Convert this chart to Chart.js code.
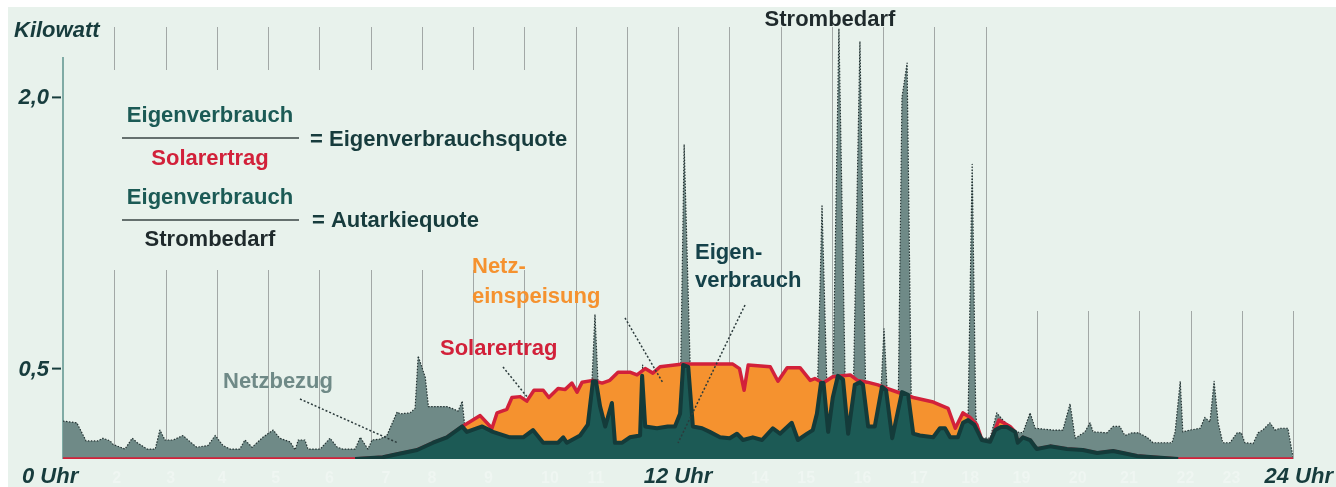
<!DOCTYPE html>
<html lang="de">
<head>
<meta charset="utf-8">
<title>Eigenverbrauch und Autarkie</title>
<script src="https://cdn.jsdelivr.net/npm/chart.js@4.4.1/dist/chart.umd.min.js"></script>
<style>
  html, body { margin: 0; padding: 0; background: #ffffff; }
  canvas { display: block; }
</style>
</head>
<body>
<canvas id="energyChart" width="1336" height="487"></canvas>
<script>
// Strombedarf (Verbrauch im Haus), kW
const demandHours = [0, 0.27, 0.45, 0.68, 0.78, 0.92, 0.98, 1.21, 1.35, 1.45, 1.64, 1.8, 1.89, 1.99, 2.15, 2.34, 2.48, 2.61, 2.83, 2.97,
  3.12, 3.26, 3.45, 3.55, 3.69, 3.9, 4.1, 4.23, 4.43, 4.53, 4.59, 4.72, 4.78, 5.02, 5.21, 5.35, 5.46, 5.7, 5.8, 5.95,
  6.03, 6.18, 6.32, 6.52, 6.58, 6.77, 6.87, 6.93, 7.07, 7.13, 7.49, 7.59, 7.71, 7.79, 7.84, 7.88, 8.18, 8.39, 8.72, 8.98,
  9.17, 9.37, 9.66, 9.76, 9.83, 10.09, 10.24, 10.32, 10.38, 10.44, 10.48, 10.58, 10.71, 10.77, 10.91, 11.06, 11.26, 11.31, 11.36, 11.59,
  11.8, 11.94, 12.04, 12.12, 12.24, 12.29, 12.47, 12.62, 12.82, 13.01, 13.15, 13.27, 13.46, 13.64, 13.85, 13.99, 14.22, 14.34, 14.52, 14.63,
  14.71, 14.81, 14.93, 15.02, 15.14, 15.27, 15.32, 15.42, 15.55, 15.66, 15.71, 15.84, 15.96, 16.02, 16.08, 16.18, 16.3, 16.37, 16.47, 16.55,
  16.59, 16.72, 16.98, 17.11, 17.21, 17.31, 17.46, 17.56, 17.66, 17.74, 17.81, 17.83, 17.93, 18.09, 18.22, 18.34, 18.48, 18.58, 18.73, 18.87,
  18.97, 19.32, 19.51, 19.65, 19.75, 19.94, 20.04, 20.1, 20.37, 20.49, 20.62, 20.72, 20.86, 20.98, 21.15, 21.27, 21.64, 21.7, 21.8, 21.85,
  21.99, 22.19, 22.28, 22.38, 22.46, 22.54, 22.63, 22.77, 22.91, 22.99, 23.06, 23.22, 23.32, 23.41, 23.55, 23.65, 23.75, 23.9, 24];
const demandKw = [0.21, 0.2, 0.1, 0.1, 0.115, 0.1, 0.08, 0.055, 0.115, 0.09, 0.055, 0.055, 0.16, 0.105, 0.105, 0.13, 0.095, 0.065, 0.075, 0.13,
  0.075, 0.055, 0.055, 0.105, 0.065, 0.12, 0.16, 0.115, 0.095, 0.05, 0.105, 0.105, 0.055, 0.055, 0.115, 0.065, 0.055, 0.055, 0.12, 0.055,
  0.105, 0.11, 0.13, 0.26, 0.25, 0.255, 0.28, 0.57, 0.45, 0.29, 0.29, 0.28, 0.265, 0.32, 0.18, 0.15, 0.18, 0.15, 0.12, 0.12,
  0.16, 0.09, 0.09, 0.12, 0.09, 0.13, 0.19, 0.42, 0.8, 0.42, 0.29, 0.18, 0.31, 0.09, 0.09, 0.12, 0.13, 0.52, 0.18, 0.17,
  0.18, 0.18, 0.25, 1.74, 0.49, 0.18, 0.17, 0.15, 0.12, 0.115, 0.14, 0.105, 0.12, 0.105, 0.17, 0.14, 0.2, 0.105, 0.14, 0.16,
  0.25, 1.4, 0.15, 0.34, 2.38, 0.3, 0.14, 0.35, 2.31, 0.4, 0.18, 0.18, 0.38, 0.72, 0.38, 0.115, 0.37, 2.0, 2.19, 0.36,
  0.14, 0.13, 0.12, 0.17, 0.17, 0.12, 0.12, 0.2, 0.22, 1.63, 0.25, 0.19, 0.115, 0.115, 0.255, 0.215, 0.18, 0.15, 0.145, 0.255,
  0.17, 0.16, 0.16, 0.305, 0.115, 0.15, 0.2, 0.15, 0.145, 0.18, 0.18, 0.13, 0.145, 0.145, 0.12, 0.09, 0.09, 0.15, 0.43, 0.15,
  0.16, 0.17, 0.23, 0.205, 0.43, 0.2, 0.09, 0.09, 0.145, 0.145, 0.09, 0.085, 0.145, 0.16, 0.2, 0.16, 0.17, 0.17, 0.01];

// Solarertrag, kW
const solarHours = [0, 5.7, 6.24, 6.58, 6.91, 7.22, 7.49, 7.79, 8.14, 8.37, 8.47, 8.66, 8.76, 8.92, 9.05, 9.19, 9.37, 9.48, 9.66, 9.8,
  9.93, 10.03, 10.13, 10.34, 10.52, 10.67, 10.83, 11.06, 11.2, 11.36, 11.51, 11.65, 12.1, 12.62, 13.07, 13.2, 13.29, 13.37, 13.8, 13.95,
  14.13, 14.38, 14.58, 14.67, 14.83, 15.02, 15.36, 15.5, 15.69, 15.9, 16.08, 16.33, 16.59, 16.98, 17.27, 17.41, 17.56, 17.7, 17.83, 17.93,
  18.09, 18.26, 18.48, 18.58, 18.63, 18.73, 18.87, 19.0, 19.26, 19.59, 19.9, 20.18, 20.49, 20.68, 20.96, 21.21, 21.76, 24];
const solarKw = [0, 0, 0.01, 0.03, 0.05, 0.09, 0.12, 0.18, 0.24, 0.17, 0.255, 0.275, 0.34, 0.345, 0.32, 0.38, 0.38, 0.34, 0.39, 0.385,
  0.42, 0.37, 0.425, 0.435, 0.42, 0.435, 0.48, 0.48, 0.465, 0.5, 0.475, 0.51, 0.525, 0.525, 0.525, 0.5, 0.38, 0.52, 0.51, 0.43,
  0.505, 0.505, 0.435, 0.445, 0.42, 0.455, 0.465, 0.435, 0.425, 0.41, 0.39, 0.365, 0.34, 0.315, 0.28, 0.17, 0.255, 0.23, 0.19, 0.105,
  0.095, 0.215, 0.18, 0.15, 0.09, 0.12, 0.105, 0.055, 0.07, 0.055, 0.05, 0.033, 0.044, 0.033, 0.017, 0.011, 0, 0];

// Eigenverbrauch (selbst genutzter Solarstrom), kW
const selfHours = [5.7, 6.24, 6.58, 6.91, 7.22, 7.49, 7.79, 7.88, 8.18, 8.39, 8.72, 8.98, 9.17, 9.37, 9.66, 9.76, 9.83, 10.09, 10.24, 10.34,
  10.4, 10.48, 10.58, 10.71, 10.77, 10.91, 11.06, 11.26, 11.3, 11.36, 11.59, 11.8, 11.94, 12.04, 12.1, 12.2, 12.29, 12.47, 12.62, 12.82,
  13.01, 13.15, 13.27, 13.46, 13.64, 13.85, 13.99, 14.22, 14.34, 14.52, 14.63, 14.71, 14.79, 14.84, 14.93, 15.02, 15.12, 15.22, 15.32, 15.45,
  15.55, 15.61, 15.71, 15.84, 15.98, 16.06, 16.18, 16.37, 16.49, 16.59, 16.72, 16.98, 17.11, 17.21, 17.31, 17.46, 17.56, 17.66, 17.78, 17.85,
  17.93, 18.09, 18.19, 18.3, 18.42, 18.58, 18.63, 18.73, 18.87, 19.0, 19.26, 19.59, 19.9, 20.18, 20.49, 20.68, 20.96, 21.21, 21.76];
const selfKw = [0, 0.01, 0.03, 0.05, 0.09, 0.12, 0.18, 0.15, 0.18, 0.15, 0.12, 0.12, 0.16, 0.09, 0.09, 0.12, 0.09, 0.13, 0.19, 0.43,
  0.43, 0.29, 0.18, 0.31, 0.09, 0.09, 0.12, 0.13, 0.46, 0.18, 0.17, 0.18, 0.18, 0.25, 0.52, 0.51, 0.18, 0.17, 0.15, 0.12,
  0.115, 0.14, 0.105, 0.12, 0.105, 0.17, 0.14, 0.2, 0.105, 0.14, 0.16, 0.25, 0.42, 0.42, 0.15, 0.34, 0.46, 0.44, 0.14, 0.41,
  0.425, 0.41, 0.18, 0.18, 0.4, 0.38, 0.115, 0.37, 0.355, 0.14, 0.13, 0.12, 0.17, 0.17, 0.12, 0.12, 0.2, 0.215, 0.19, 0.15,
  0.105, 0.095, 0.16, 0.177, 0.177, 0.15, 0.09, 0.12, 0.105, 0.055, 0.07, 0.055, 0.05, 0.033, 0.044, 0.033, 0.017, 0.011, 0];

const yTickValues = [0.5, 2.0];
const yTickLabels = ['0,5', '2,0'];
const hourLabelValues = [0, 12, 24];
const hourLabels = ['0 Uhr', '12 Uhr', '24 Uhr'];
// kaum sichtbare Stundenzahlen unter der Achse
const faintHourPos = [1.05, 2.1, 3.1, 4.15, 5.2, 6.3, 7.2, 8.3, 9.5, 10.4, 13.6, 14.5, 15.6, 16.7, 17.7, 18.7, 19.8, 20.8, 21.9, 22.8];
const faintHourText = ['2', '3', '4', '5', '6', '7', '8', '9', '10', '11', '14', '15', '16', '17', '18', '19', '20', '21', '22', '23'];

const toPoints = (xs, ys) => xs.map((x, i) => ({ x: x, y: ys[i] }));

const BG = '#e8f2ec';
const DARK = '#173c3d';
const LABEL_FONT = 'bold 22px "Liberation Sans", Arial, sans-serif';
const AXIS_FONT = 'italic bold 22px "Liberation Sans", Arial, sans-serif';

const decoPlugin = {
    id: 'deco',
    beforeDraw(chart) {
        const c = chart.ctx;
        c.save();
        c.fillStyle = BG;
        c.fillRect(8, 7, chart.width - 8, chart.height - 7);
        c.restore();
    },
    beforeDatasetsDraw(chart) {
        const c = chart.ctx;
        const xs = chart.scales.x, ys = chart.scales.y;
        const bottom = ys.getPixelForValue(0);
        c.save();
        c.strokeStyle = '#a2a8a6';
        c.lineWidth = 1;
        for (let h = 1; h <= 24; h++) {
            const x = Math.round(xs.getPixelForValue(h)) + 0.5;
            let segs;
            if (h <= 9) segs = [[27, 70], [270, bottom]];
            else if (h <= 18) segs = [[27, bottom]];
            else segs = [[311, bottom]];
            segs.forEach(s => {
                c.beginPath();
                c.moveTo(x, s[0]);
                c.lineTo(x, s[1]);
                c.stroke();
            });
        }
        // y axis
        const x0 = xs.getPixelForValue(0);
        c.strokeStyle = '#5e938e';
        c.lineWidth = 1.5;
        c.beginPath();
        c.moveTo(x0, 57);
        c.lineTo(x0, bottom);
        c.stroke();
        c.restore();
    },
    afterDatasetsDraw(chart) {
        const c = chart.ctx;
        const xs = chart.scales.x, ys = chart.scales.y;
        const x0 = xs.getPixelForValue(0);
        c.save();

        // y ticks
        c.font = AXIS_FONT;
        c.fillStyle = DARK;
        c.strokeStyle = DARK;
        c.lineWidth = 2;
        c.textBaseline = 'middle';
        c.textAlign = 'right';
        yTickValues.forEach((v, i) => {
            const y = ys.getPixelForValue(v);
            c.beginPath();
            c.moveTo(x0 - 11, y);
            c.lineTo(x0 - 2, y);
            c.stroke();
            c.fillText(yTickLabels[i], x0 - 14, y + 1);
        });
        c.textAlign = 'left';
        c.fillText('Kilowatt', 14, 31);

        // faint hour numbers
        c.font = 'bold 16px "Liberation Sans", Arial, sans-serif';
        c.fillStyle = 'rgba(255,255,255,0.3)';
        c.textAlign = 'center';
        faintHourPos.forEach((h, i) => c.fillText(faintHourText[i], xs.getPixelForValue(h), 479));

        // hour labels
        c.font = AXIS_FONT;
        c.fillStyle = DARK;
        hourLabelValues.forEach((h, i) => {
            const x = xs.getPixelForValue(h);
            if (i === 0) { c.textAlign = 'left'; c.fillText(hourLabels[i], x - 41, 477); }
            else if (i === hourLabels.length - 1) { c.textAlign = 'right'; c.fillText(hourLabels[i], x + 40, 477); }
            else { c.textAlign = 'center'; c.fillText(hourLabels[i], x, 477); }
        });

        // formulas
        c.font = LABEL_FONT;
        c.textAlign = 'center';
        c.fillStyle = '#1b5a55';
        c.fillText('Eigenverbrauch', 210, 116);
        c.fillStyle = '#d2213a';
        c.fillText('Solarertrag', 210, 159);
        c.fillStyle = '#1b5a55';
        c.fillText('Eigenverbrauch', 210, 198);
        c.fillStyle = '#1f2a2c';
        c.fillText('Strombedarf', 210, 240);
        c.strokeStyle = '#3a4444';
        c.lineWidth = 1.5;
        [138, 220].forEach(y => {
            c.beginPath();
            c.moveTo(122, y);
            c.lineTo(299, y);
            c.stroke();
        });
        c.textAlign = 'left';
        c.fillStyle = DARK;
        c.fillText('= Eigenverbrauchsquote', 310, 140);
        c.fillText('= Autarkiequote', 312, 221);

        // annotations
        c.textAlign = 'center';
        c.fillStyle = '#1f2a2c';
        c.fillText('Strombedarf', 830, 20);
        c.textAlign = 'left';
        c.fillStyle = '#6f8a87';
        c.fillText('Netzbezug', 223, 382);
        c.fillStyle = '#d2213a';
        c.fillText('Solarertrag', 440, 349);
        c.fillStyle = '#f5922f';
        c.fillText('Netz-', 472, 267);
        c.fillText('einspeisung', 472, 297);
        c.fillStyle = '#15424a';
        c.fillText('Eigen-', 695, 253);
        c.fillText('verbrauch', 695, 281);

        // leader lines
        c.strokeStyle = '#2c3b3c';
        c.lineWidth = 1.5;
        c.setLineDash([2, 2]);
        [[300, 399, 398, 443], [503, 367, 528, 398], [625, 318, 663, 383], [745, 305, 678, 443]].forEach(l => {
            c.beginPath();
            c.moveTo(l[0], l[1]);
            c.lineTo(l[2], l[3]);
            c.stroke();
        });
        c.restore();
    }
};

const ctx = document.getElementById('energyChart').getContext('2d');
new Chart(ctx, {
    type: 'line',
    data: {
        datasets: [
            {
                label: 'Eigenverbrauch',
                data: toPoints(selfHours, selfKw),
                borderColor: '#143b3a',
                backgroundColor: '#1c5a55',
                borderWidth: 4,
                fill: 'origin',
                order: 1
            },
            {
                label: 'Solarertrag',
                data: toPoints(solarHours, solarKw),
                borderColor: '#d2213a',
                backgroundColor: '#f5922f',
                borderWidth: 3.5,
                fill: 'origin',
                order: 2
            },
            {
                label: 'Strombedarf',
                data: toPoints(demandHours, demandKw),
                borderColor: '#243333',
                backgroundColor: '#6f8a87',
                borderWidth: 1.2,
                borderDash: [1.5, 1.5],
                fill: 'origin',
                order: 3
            }
        ]
    },
    options: {
        responsive: false,
        animation: false,
        devicePixelRatio: 1,
        layout: { padding: { left: 63, right: 43, top: 7, bottom: 28 } },
        elements: {
            point: { radius: 0 },
            line: { tension: 0, borderJoinStyle: 'round' }
        },
        scales: {
            x: { type: 'linear', min: 0, max: 24, display: false },
            y: { min: 0, max: 2.5, display: false }
        },
        plugins: {
            legend: { display: false },
            tooltip: { enabled: false }
        }
    },
    plugins: [decoPlugin]
});
</script>
</body>
</html>
